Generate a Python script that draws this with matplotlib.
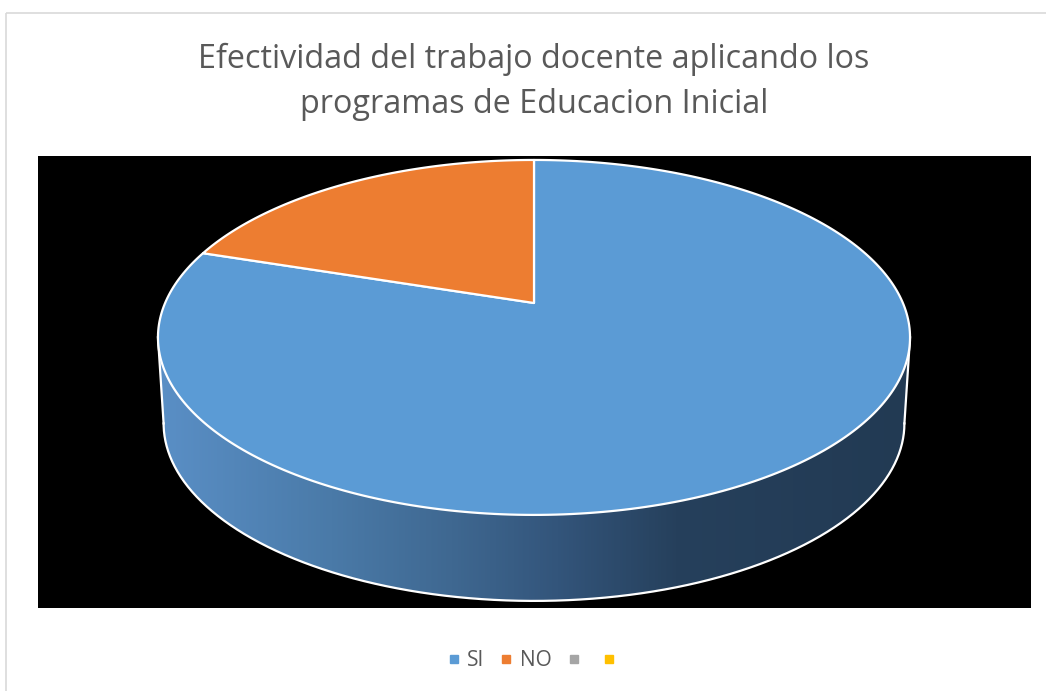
import numpy as np
import matplotlib
matplotlib.use("Agg")
import matplotlib.pyplot as plt
from matplotlib.patches import Polygon, Rectangle
from matplotlib.lines import Line2D
from matplotlib.colors import LinearSegmentedColormap

# ---- data ----
categories = ["SI", "NO", "", ""]
values = [80, 20, 0, 0]
colors = ["#5b9bd5", "#ed7d31", "#a5a5a5", "#ffc000"]
title = "Efectividad del trabajo docente aplicando los\nprogramas de Educacion Inicial"

# ---- canvas in pixel coordinates ----
W, H = 1046, 691
fig = plt.figure(figsize=(W / 100, H / 100), dpi=100)
ax = fig.add_axes([0, 0, 1, 1])
ax.set_xlim(0, W)
ax.set_ylim(H, 0)
ax.axis("off")

ax.add_patch(Rectangle((5.5, 12.5), 1100, 700, fill=False, ec="#d9d9d9", lw=1.2, zorder=0))
ax.add_patch(Rectangle((38, 156), 993, 452, fc="black", ec="none", zorder=1))

# ---- 3D pie geometry (perspective ellipse) ----
cx, cy0 = 534, 303
k, b, s = 0.194, 170.8, 368.9
D = 86


def proj(theta, depth=0.0, shrink=1.0):
    u = np.cos(theta)
    v = np.sin(theta)
    den = 1 + k * v
    return cx + s * u / den * shrink, cy0 - b * v / den + depth


total = float(sum(values))
start = np.pi / 2
slices = []
ang = start
for val, col in zip(values, colors):
    sweep = 2 * np.pi * val / total
    slices.append((ang - sweep, ang, col))  # clockwise
    ang -= sweep

# side (front arc)
t_left = np.pi + np.arcsin(k)
t_right = 2 * np.pi - np.arcsin(k)
side_cmap = LinearSegmentedColormap.from_list(
    "side",
    [(0.0, "#5a8fc6"), (0.23, "#4a7aa8"), (0.39, "#3f6891"),
     (0.53, "#33557b"), (0.69, "#26405c"), (1.0, "#223a53")])
for a0, a1, col in slices:
    if a1 - a0 <= 0:
        continue
    for shift in (-2 * np.pi, 0, 2 * np.pi):
        lo = max(a0 + shift, t_left)
        hi = min(a1 + shift, t_right)
        if hi <= lo:
            continue
        th = np.linspace(lo, hi, 200)
        xt, yt = proj(th)
        xb, yb = proj(th[::-1], depth=D, shrink=0.985)
        pts = np.column_stack([np.r_[xt, xb], np.r_[yt, yb]])
        poly = Polygon(pts, closed=True, fc="none", ec="none", zorder=2)
        ax.add_patch(poly)
        grad = np.linspace(0, 1, 512).reshape(1, -1)
        x0, x1 = proj(t_left)[0], proj(t_right)[0]
        im = ax.imshow(grad, cmap=side_cmap, aspect="auto",
                       extent=(x0, x1, max(yb) + 2, min(yt) - 2), zorder=2)
        im.set_clip_path(poly)
        ax.plot(xb, yb, color="white", lw=1.6, zorder=3)
        ax.plot([xt[0], xb[-1]], [yt[0], yb[-1]], color="white", lw=1.6, zorder=3)
        ax.plot([xt[-1], xb[0]], [yt[-1], yb[0]], color="white", lw=1.6, zorder=3)

# top faces
for a0, a1, col in slices:
    if a1 - a0 <= 0:
        continue
    th = np.linspace(a0, a1, 300)
    xa, ya = proj(th)
    pts = np.column_stack([np.r_[cx, xa], np.r_[cy0, ya]])
    ax.add_patch(Polygon(pts, closed=True, fc=col, ec="white", lw=1.6,
                         joinstyle="round", zorder=4))

# ---- title ----
tfont = ["Open Sans", "DejaVu Sans"]
t = ax.text(534, 82, title, ha="center", va="center", fontsize=24,
            family=tfont, color="#595959", linespacing=1.45, zorder=5)
fig.canvas.draw()
bb = t.get_window_extent()
t.set_fontsize(24 * 675 / bb.width)

# ---- legend ----
handles = [Line2D([], [], marker="s", ls="none", markersize=5.5,
                  markerfacecolor=c, markeredgecolor=c) for c in colors]
leg = ax.legend(handles, categories, loc="center", bbox_to_anchor=(535 / W, 1 - 661 / H),
                ncol=4, frameon=False, handlelength=0.6,
                handletextpad=0.35, columnspacing=0.75,
                prop={"family": ["Open Sans", "DejaVu Sans"], "size": 15})
for txt in leg.get_texts():
    txt.set_color("#595959")

fig.savefig("out.png", dpi=100)
